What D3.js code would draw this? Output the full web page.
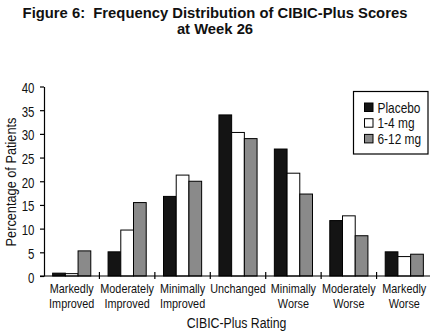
<!DOCTYPE html>
<html><head><meta charset="utf-8">
<script src="https://cdn.jsdelivr.net/npm/d3@7"></script>
<style>
body{margin:0;background:#fff;}
svg{display:block;}
</style></head><body>
<svg id="c" width="430" height="331"></svg>
<script>
const categories = [["Markedly","Improved"],["Moderately","Improved"],["Minimally","Improved"],["Unchanged",""],["Minimally","Worse"],["Moderately","Worse"],["Markedly","Worse"]];
const seriesNames = ["Placebo","1-4 mg","6-12 mg"];
const placebo = [0.6, 5.1, 16.8, 34.0, 26.8, 11.7, 5.1];
const low = [0.5, 9.7, 21.3, 30.3, 21.7, 12.7, 4.1];
const high = [5.3, 15.5, 20.0, 29.0, 17.3, 8.5, 4.6];
const yTicks = [0,5,10,15,20,25,30,35,40];
const fills = ["#141414","#ffffff","#8a8a8a"];

const svg = d3.select("#c");
const font = "'Liberation Sans',Arial,sans-serif";
function ntext(parent, x, yy, str, size, anchor, sx){
  return parent.append("text").attr("transform",`translate(${x},${yy}) scale(${sx||0.8},1)`)
    .attr("text-anchor",anchor||"middle").attr("font-family",font).attr("font-size",size).attr("fill","#111").text(str);
}
const x0 = d3.scaleBand().domain(d3.range(categories.length)).range([44, 432]).paddingInner(0).paddingOuter(0);
const x1 = d3.scaleBand().domain(d3.range(3)).range([0, x0.bandwidth()]).paddingOuter(0.68).paddingInner(0);
const y = d3.scaleLinear().domain([0,40]).range([276, 86.5]);

svg.append("text").attr("x",215).attr("y",18).attr("text-anchor","middle").attr("xml:space","preserve")
  .attr("font-family",font).attr("font-weight","bold").attr("font-size",14.8).attr("fill","#111")
  .text("Figure 6:\u00a0 Frequency Distribution of CIBIC-Plus Scores");
svg.append("text").attr("x",215).attr("y",33.5).attr("text-anchor","middle")
  .attr("font-family",font).attr("font-weight","bold").attr("font-size",14.8).attr("fill","#111")
  .text("at Week 26");

const data = [placebo, low, high];
const g = svg.append("g");
categories.forEach((c,i)=>{
  data.forEach((s,j)=>{
    g.append("rect").attr("x", x0(i)+x1(j)).attr("y", y(s[i])).attr("width", x1.bandwidth()).attr("height", y(0)-y(s[i]))
      .attr("fill", fills[j]).attr("stroke","#000").attr("stroke-width",1);
  });
});

// y axis
const yAxis = d3.axisLeft(y).tickValues(yTicks).tickSize(4).tickSizeOuter(0).tickFormat("");
const ya = svg.append("g").attr("transform","translate(44,0)").call(yAxis);
ya.selectAll("line,path").attr("stroke","#000").attr("stroke-width",1.2);
yTicks.forEach(t=>{ ntext(svg, 34.5, y(t)+6.5, String(t), 14, "end", 0.82); });

// x axis line
svg.append("line").attr("x1",40).attr("x2",430).attr("y1",y(0)).attr("y2",y(0)).attr("stroke","#000").attr("stroke-width",1.2);
d3.range(1,categories.length).forEach(i=>{
  svg.append("line").attr("x1",x0(i)).attr("x2",x0(i)).attr("y1",y(0)-4).attr("y2",y(0)+3).attr("stroke","#000").attr("stroke-width",1.2);
});
categories.forEach((c,i)=>{
  const cx = x0(i)+x0.bandwidth()/2;
  ntext(svg, cx, 293.2, c[0], 13, "middle", 0.835);
  if (c[1]) ntext(svg, cx, 308.2, c[1], 13, "middle", 0.835);
});
ntext(svg, 236.5, 327.8, "CIBIC-Plus Rating", 15, "middle", 0.82);
svg.append("text").attr("transform",`translate(15.5,182) rotate(-90) scale(0.85,1)`).attr("text-anchor","middle").attr("font-family",font).attr("font-size",15).attr("fill","#111").text("Percentage of Patients");

// legend
const lg = svg.append("g");
lg.append("rect").attr("x",353.5).attr("y",91.5).attr("width",74.5).attr("height",62.5).attr("fill","#fff").attr("stroke","#000").attr("stroke-width",1.2);
seriesNames.forEach((n,j)=>{
  lg.append("rect").attr("x",364.5).attr("y",103+j*15.7).attr("width",8.5).attr("height",8.5).attr("fill",fills[j]).attr("stroke","#000").attr("stroke-width",1);
  ntext(lg, 377.5, 112.5+j*15.7, n, 14, "start", 0.85);
});
</script>
</body></html>
